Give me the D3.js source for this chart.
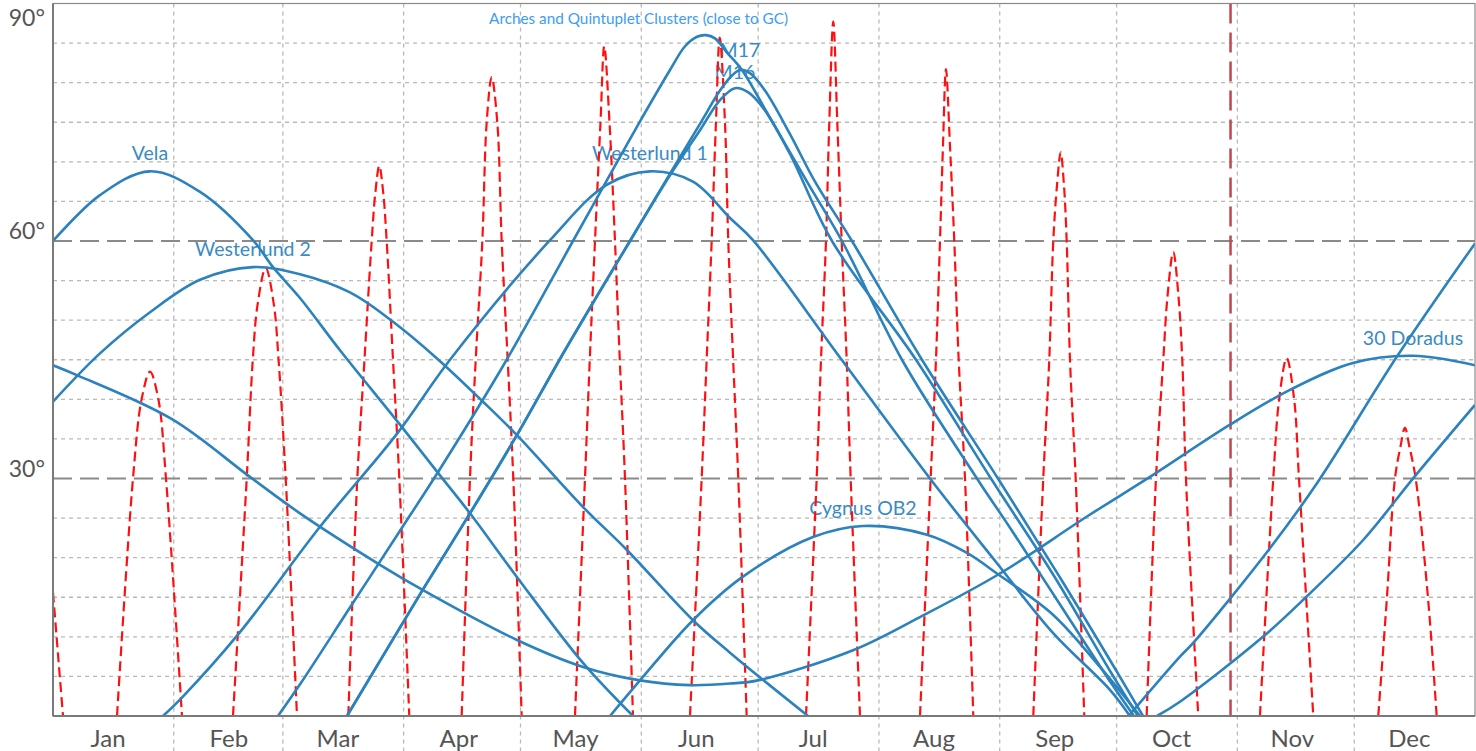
<!DOCTYPE html>
<html>
<head>
<meta charset="utf-8">
<script src="https://cdn.jsdelivr.net/npm/d3@7"></script>
<style>
  html, body { margin: 0; padding: 0; background: #fff; }
  svg { display: block; }
</style>
</head>
<body>
<svg id="chart" width="1476" height="751"></svg>
<script>
// Altitude at local midnight of a few massive star-forming regions over one year,
// with the Moon's midnight altitude drawn as a red dashed line.
// Every series is a list of [day of year, altitude in degrees]; null breaks the line.

const yearStart = Date.UTC(2015, 0, 1);
const yearEnd = Date.UTC(2016, 0, 1);

const altitudeTicks = [30, 60, 90];
const limitAltitudes = [30, 60];
const markerDay = 302.25; // dark red vertical marker (end of October)

const vela = [
  [0, 60.0], [12.06, 65.8], [24.90, 68.8], [37.73, 66.2], [51.33, 60.1], [56.47, 56.7],
  [63.40, 52.8], [73.67, 46.2], [89.07, 36.8], [99.33, 30.4], [107.03, 25.6], [119.02, 17.6],
  [136.04, 6.7], [148.87, 0],
  null,
  [276.1, 0], [289.27, 7.5], [292.61, 9.2], [312.37, 21.2], [324.44, 29.4], [344.97, 45.4], [365, 59.7]
];

const westerlund2 = [
  [0, 39.7], [12.06, 45.8], [24.90, 51.0], [37.73, 55.1], [51.33, 56.7], [63.40, 55.8],
  [76.23, 53.5], [87.27, 49.8], [98.49, 45.2], [110.37, 39.7], [119.02, 35.5], [136.04, 26.4],
  [147.25, 21.0], [164.27, 12.1], [173.77, 8.0], [193.8, 0],
  null,
  [283.37, 0], [289.27, 1.8], [310.57, 10.0], [321.79, 15.1], [336.24, 22.2], [349.59, 30.3], [365, 39.3]
];

const westerlund1 = [
  [28.23, 0], [33.03, 2.3], [48.00, 10.6], [68.53, 23.9], [88.22, 35.6], [101.90, 45.0],
  [127.57, 60.1], [142.10, 67.1], [153.23, 68.8], [164.27, 67.5], [173.77, 62.9], [179.67, 60.1],
  [202.44, 45.0], [225.10, 30.0], [242.30, 19.3], [256.67, 10.5], [271.30, 3.3], [276.4, 0]
];

const galacticCentre = [
  [57.75, 0], [63.40, 4.0], [76.23, 13.7], [89.07, 23.4], [99.33, 31.2], [116.45, 45.0],
  [133.47, 60.0], [141.30, 66.9], [150.67, 75.1], [158.37, 81.6], [162.23, 84.6], [165.31, 85.8],
  [167.61, 86.0], [169.92, 85.6], [173.00, 83.8], [176.84, 81.6], [184.54, 75.1], [194.25, 66.9],
  [202.52, 60.0], [217.91, 45.0], [237.16, 30.0], [246.15, 23.4], [258.98, 13.7], [271.82, 4.0], [277.46, 0]
];

const m17 = [
  [75.46, 0], [94.97, 16.0], [107.03, 25.6], [119.10, 35.5], [131.42, 46.2], [148.10, 60.0],
  [158.37, 68.5], [166.07, 74.8], [171.20, 79.0], [174.28, 80.9], [176.33, 81.6], [178.90, 81.2],
  [182.75, 79.0], [189.17, 73.5], [195.59, 67.5], [205.08, 60.0], [223.05, 45.0], [242.56, 30.0],
  [258.47, 17.5], [272.59, 6.0], [279.77, 0]
];

const m16 = [
  [75.46, 0], [94.97, 16.0], [107.03, 25.6], [119.10, 35.5], [131.42, 46.2], [148.10, 60.0],
  [158.37, 68.3], [166.07, 74.0], [171.20, 77.8], [175.05, 79.3], [178.39, 78.8], [182.75, 76.5],
  [189.17, 71.0], [199.95, 60.0], [221.51, 45.0], [240.76, 30.0], [257.19, 17.5], [271.56, 5.5], [278.49, 0]
];

const cygnusOB2 = [
  [142.97, 0], [150.67, 4.5], [164.27, 12.1], [177.10, 17.6], [195.07, 22.6], [207.91, 24.0],
  [224.33, 22.9], [234.60, 20.6], [242.30, 18.0], [256.67, 12.8], [268.74, 6.2], [279.00, 0]
];

const doradus30 = [
  [0, 44.3], [6.42, 43.0], [30.54, 37.5], [50.56, 30.2], [63.40, 25.6], [83.93, 19.1],
  [94.97, 15.9], [119.10, 9.6], [136.04, 6.2], [150.67, 4.5], [163.50, 3.9], [173.77, 4.1],
  [180.95, 4.5], [205.34, 8.3], [222.54, 12.5], [243.07, 18.0], [265.40, 25.2], [281.57, 30.2],
  [302.10, 36.8], [317.51, 41.2], [333.68, 44.6], [349.08, 45.5], [365, 44.3]
];

const moon = [
  [0, 15.6], [2.57, 0], null,
  [16.43, 0], [20.53, 30], [22.74, 40], [24.90, 43.5], [27.05, 40], [29.00, 30], [33.11, 0], null,
  [46.20, 0], [49.72, 30], [51.28, 45], [52.52, 52], [54.60, 56.6], [56.68, 52], [57.90, 45], [59.73, 30], [62.63, 0], null,
  [75.80, 0], [78.11, 30], [79.95, 45], [81.80, 60], [82.72, 66], [83.75, 69.5], [84.78, 66], [85.65, 60], [87.27, 45], [88.89, 30], [91.45, 0], null,
  [104.90, 0], [107.03, 30], [108.50, 45], [110.20, 60], [111.32, 75], [112.60, 80.7], [114.04, 75], [115.17, 60], [116.71, 45], [118.15, 30], [120.30, 0], null,
  [133.98, 0], [136.55, 30], [137.78, 45], [139.12, 60], [140.53, 75], [141.50, 84.6], [142.84, 75], [144.25, 60], [145.48, 45], [146.82, 30], [148.87, 0], null,
  [163.50, 0], [166.50, 30], [167.78, 45], [169.07, 60], [170.17, 75], [171.14, 85.7], [172.48, 75], [173.33, 60], [174.58, 45], [175.90, 30], [178.05, 0], null,
  [193.28, 0], [196.02, 30], [197.13, 45], [198.41, 60], [199.26, 75], [200.28, 87.7], [201.31, 75], [202.44, 60], [203.72, 45], [204.75, 30], [207.14, 0], null,
  [222.54, 0], [225.28, 30], [226.64, 45], [227.67, 60], [228.44, 72], [229.21, 81.7], [230.24, 72], [231.34, 60], [232.47, 45], [234.09, 30], [236.22, 0], null,
  [251.62, 0], [254.18, 30], [255.72, 45], [256.75, 60], [257.70, 67], [258.65, 71.2], [259.50, 67], [260.19, 60], [261.04, 45], [262.50, 30], [264.71, 0], null,
  [280.72, 0], [283.11, 30], [284.99, 45], [286.07, 53], [287.55, 58.6], [288.89, 53], [289.86, 45], [290.81, 30], [293.97, 0], null,
  [309.80, 0], [313.22, 30], [314.73, 40], [316.66, 45.2], [318.58, 40], [319.82, 30], [323.49, 0], null,
  [340.17, 0], [342.40, 15], [344.46, 30], [345.86, 34], [347.02, 36.4], [348.17, 34], [349.77, 30], [352.92, 15], [355.16, 0]
];

const clusters = [
  { name: "Vela", values: vela, label: true },
  { name: "Westerlund 2", values: westerlund2, label: true },
  { name: "Westerlund 1", values: westerlund1, label: true },
  { name: "Arches and Quintuplet Clusters (close to GC)", values: galacticCentre, label: false },
  { name: "M17", values: m17, label: true },
  { name: "M16", values: m16, label: true },
  { name: "Cygnus OB2", values: cygnusOB2, label: true },
  { name: "30 Doradus", values: doradus30, label: true }
];

// ---------------------------------------------------------------------------
const width = 1476, height = 751;
const margin = { top: 3.5, right: 1, bottom: 35, left: 53 };
const dayToDate = d => new Date(yearStart + d * 864e5);

const x = d3.scaleUtc()
  .domain([new Date(yearStart), new Date(yearEnd)])
  .range([margin.left, width - margin.right]);
const y = d3.scaleLinear()
  .domain([0, 90])
  .range([height - margin.bottom, margin.top]);

const svg = d3.select("#chart");
const lineColor = "#2b82bd";

svg.append("defs").append("clipPath").attr("id", "plot-clip")
  .append("rect")
  .attr("x", margin.left).attr("y", margin.top)
  .attr("width", x.range()[1] - margin.left)
  .attr("height", y(0) - margin.top);

// minor grid every 5 degrees
const grid = svg.append("g").attr("class", "grid");
grid.selectAll("line.h")
  .data(y.ticks(18).filter(v => v > 0 && v < 90 && v % 30 !== 0))
  .join("line").attr("class", "h")
  .attr("x1", margin.left).attr("x2", x.range()[1])
  .attr("y1", d => y(d)).attr("y2", d => y(d))
  .attr("stroke", "#b9b9b9").attr("stroke-width", 1.3).attr("stroke-dasharray", "4,4");

// month boundaries, continued down between the month names
grid.selectAll("line.v")
  .data(d3.utcMonths(new Date(Date.UTC(2015, 1, 1)), new Date(yearEnd)))
  .join("line").attr("class", "v")
  .attr("x1", d => x(d)).attr("x2", d => x(d))
  .attr("y1", margin.top).attr("y2", height)
  .attr("stroke", "#b9b9b9").attr("stroke-width", 1.3).attr("stroke-dasharray", "4,4");

// 30 and 60 degree limits
svg.append("g").selectAll("line")
  .data(limitAltitudes)
  .join("line")
  .attr("x1", margin.left).attr("x2", x.range()[1])
  .attr("y1", d => y(d)).attr("y2", d => y(d))
  .attr("stroke", "#8a8a8a").attr("stroke-width", 2).attr("stroke-dasharray", "19,8");

// names above each curve's highest point (M17 / M16 stacked apart a little)
const labelLift = { "M17": 13, "M16": 9 };
const labels = svg.append("g")
  .attr("font-family", "Lato, 'Open Sans', sans-serif")
  .attr("font-size", 19.5)
  .attr("fill", "#3a8bc3")
  .attr("text-anchor", "middle");
clusters.filter(c => c.label).forEach(c => {
  const top = d3.greatest(c.values.filter(Boolean), d => d[1]);
  labels.append("text")
    .attr("x", x(dayToDate(top[0])))
    .attr("y", y(top[1]) - (labelLift[c.name] ?? 11))
    .text(c.name);
});
svg.append("text")
  .attr("x", x(dayToDate(150.3)))
  .attr("y", y(90) + 20)
  .attr("text-anchor", "middle")
  .attr("font-family", "Lato, 'Open Sans', sans-serif")
  .attr("font-size", 15.3)
  .attr("fill", "#3d9cf5")
  .text(clusters[3].name);

// Moon
const moonLine = d3.line()
  .defined(d => d !== null)
  .x(d => x(dayToDate(d[0])))
  .y(d => y(d[1]))
  .curve(d3.curveCatmullRom.alpha(0.5));
svg.append("path")
  .datum(moon)
  .attr("clip-path", "url(#plot-clip)")
  .attr("d", moonLine)
  .attr("fill", "none")
  .attr("stroke", "#ff1010")
  .attr("stroke-width", 2.2)
  .attr("stroke-dasharray", "10,5");

// marker line
svg.append("line")
  .attr("x1", x(dayToDate(markerDay))).attr("x2", x(dayToDate(markerDay)))
  .attr("y1", margin.top).attr("y2", y(0))
  .attr("stroke", "#c0474f").attr("stroke-width", 2.5)
  .attr("stroke-dasharray", "20,9");

// cluster altitude curves
const altLine = d3.line()
  .defined(d => d !== null)
  .x(d => x(dayToDate(d[0])))
  .y(d => y(d[1]))
  .curve(d3.curveCatmullRom.alpha(0.5));
svg.append("g")
  .attr("clip-path", "url(#plot-clip)")
  .selectAll("path")
  .data(clusters)
  .join("path")
  .attr("d", c => altLine(c.values))
  .attr("fill", "none")
  .attr("stroke", lineColor)
  .attr("stroke-width", 2.6);

// frame
svg.append("rect")
  .attr("x", margin.left).attr("y", margin.top)
  .attr("width", x.range()[1] - margin.left)
  .attr("height", y(0) - margin.top)
  .attr("fill", "none").attr("stroke", "#8a8a8a").attr("stroke-width", 1.2);
svg.append("line")
  .attr("x1", margin.left).attr("x2", margin.left)
  .attr("y1", margin.top).attr("y2", y(0))
  .attr("stroke", "#7a7a7a").attr("stroke-width", 2);
svg.append("line")
  .attr("x1", margin.left).attr("x2", x.range()[1])
  .attr("y1", y(0)).attr("y2", y(0))
  .attr("stroke", "#7a7a7a").attr("stroke-width", 2);

// month names at mid-month
const xAxis = d3.axisBottom(x)
  .tickValues(d3.utcMonths(new Date(yearStart), new Date(yearEnd)).map(d => d3.utcDay.offset(d, 14)))
  .tickFormat(d3.utcFormat("%b"))
  .tickSize(0)
  .tickPadding(14);
const gx = svg.append("g").attr("transform", `translate(0,${y(0)})`).call(xAxis);
gx.select(".domain").remove();
gx.selectAll("text")
  .attr("font-family", "Lato, 'Open Sans', sans-serif")
  .attr("font-size", 24)
  .attr("fill", "#555");

// altitude labels
const yAxis = d3.axisLeft(y)
  .tickValues(altitudeTicks)
  .tickFormat(d => d + "°")
  .tickSize(0)
  .tickPadding(8);
const gy = svg.append("g").attr("transform", `translate(${margin.left},0)`).call(yAxis);
gy.select(".domain").remove();
gy.selectAll("text")
  .attr("font-family", "Lato, 'Open Sans', sans-serif")
  .attr("font-size", 23)
  .attr("fill", "#555")
  .attr("dy", d => d === 90 ? "0.95em" : "-0.1em");
</script>
</body>
</html>
